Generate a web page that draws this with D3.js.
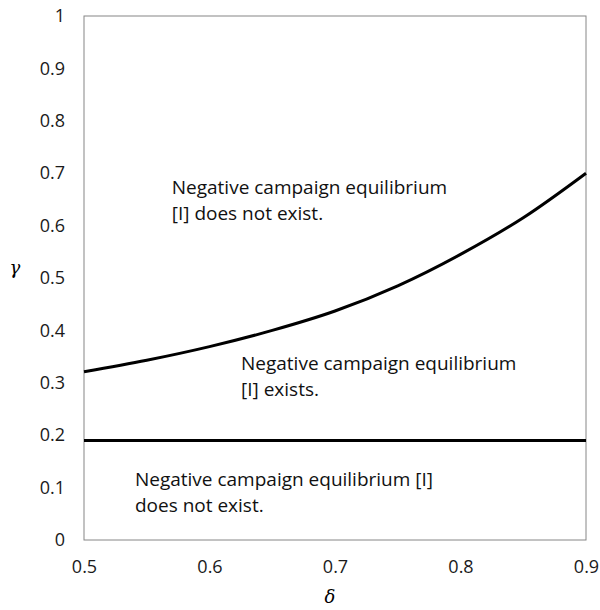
<!DOCTYPE html>
<html><head><meta charset="utf-8">
<script src="https://cdn.jsdelivr.net/npm/d3@7"></script>
<style>body{margin:0;background:#fff;} text{font-family:"Open Sans","Noto Sans",sans-serif;}</style>
</head><body>
<svg id="c" width="600" height="610"></svg>
<script>
const deltaVals = [0.5, 0.55, 0.6, 0.65, 0.7, 0.75, 0.8, 0.85, 0.9];
const upperGamma = [0.321, 0.343, 0.369, 0.400, 0.437, 0.485, 0.545, 0.615, 0.700];
const lowerGamma = [0.19, 0.19, 0.19, 0.19, 0.19, 0.19, 0.19, 0.19, 0.19];
const xTicks = [0.5, 0.6, 0.7, 0.8, 0.9];
const yTicks = [0, 0.1, 0.2, 0.3, 0.4, 0.5, 0.6, 0.7, 0.8, 0.9, 1];
const regionLabels = [
  {d: 0.5699, g: 0.660, lines: ["Negative campaign equilibrium", "[I] does not exist."]},
  {d: 0.6251, g: 0.3245, lines: ["Negative campaign equilibrium", "[I] exists."]},
  {d: 0.5406, g: 0.103, lines: ["Negative campaign equilibrium [I]", "does not exist."]}
];

const svg = d3.select("#c");
const L = 84, R = 586, T = 16, B = 540;
const x = d3.scaleLinear().domain([0.5, 0.9]).range([L, R]);
const y = d3.scaleLinear().domain([0, 1]).range([B, T]);

// frame
svg.append("rect").attr("x", L).attr("y", T).attr("width", R - L).attr("height", B - T)
  .attr("fill", "none").attr("stroke", "#868686").attr("stroke-width", 1);

const yAxis = svg.append("g").attr("transform", `translate(${L},0)`)
  .call(d3.axisLeft(y).tickValues(yTicks).tickSize(0).tickPadding(19).tickFormat(d => +d.toFixed(1)));
yAxis.select(".domain").remove();
yAxis.selectAll("text").attr("font-size", 18).attr("fill", "#1a1a1a").style("font-family", '"Open Sans",sans-serif');

const xAxis = svg.append("g").attr("transform", `translate(0,${B})`)
  .call(d3.axisBottom(x).tickValues(xTicks).tickSize(0).tickPadding(20).tickFormat(d => +d.toFixed(1)));
xAxis.select(".domain").remove();
xAxis.selectAll("text").attr("font-size", 18).attr("fill", "#1a1a1a").style("font-family", '"Open Sans",sans-serif');

const line = d3.line().x((d, i) => x(deltaVals[i])).y(d => y(d)).curve(d3.curveMonotoneX);
svg.append("path").datum(upperGamma).attr("d", line).attr("fill", "none").attr("stroke", "#000").attr("stroke-width", 3);
svg.append("path").datum(lowerGamma).attr("d", line).attr("fill", "none").attr("stroke", "#000").attr("stroke-width", 3);

regionLabels.forEach(r => {
  r.lines.forEach((s, i) => {
    svg.append("text").attr("x", x(r.d)).attr("y", y(r.g) + i * 26)
      .attr("font-size", 19).attr("fill", "#111").text(s);
  });
});

svg.append("text").attr("x", 15).attr("y", 274).attr("text-anchor", "middle")
  .attr("font-size", 18).style("font-family", '"DejaVu Serif","Liberation Serif",serif').style("font-style", "italic").text("γ");
svg.append("text").attr("x", 330).attr("y", 603).attr("text-anchor", "middle")
  .attr("font-size", 18).style("font-family", '"DejaVu Serif","Liberation Serif",serif').style("font-style", "italic").text("δ");
</script>
</body></html>
